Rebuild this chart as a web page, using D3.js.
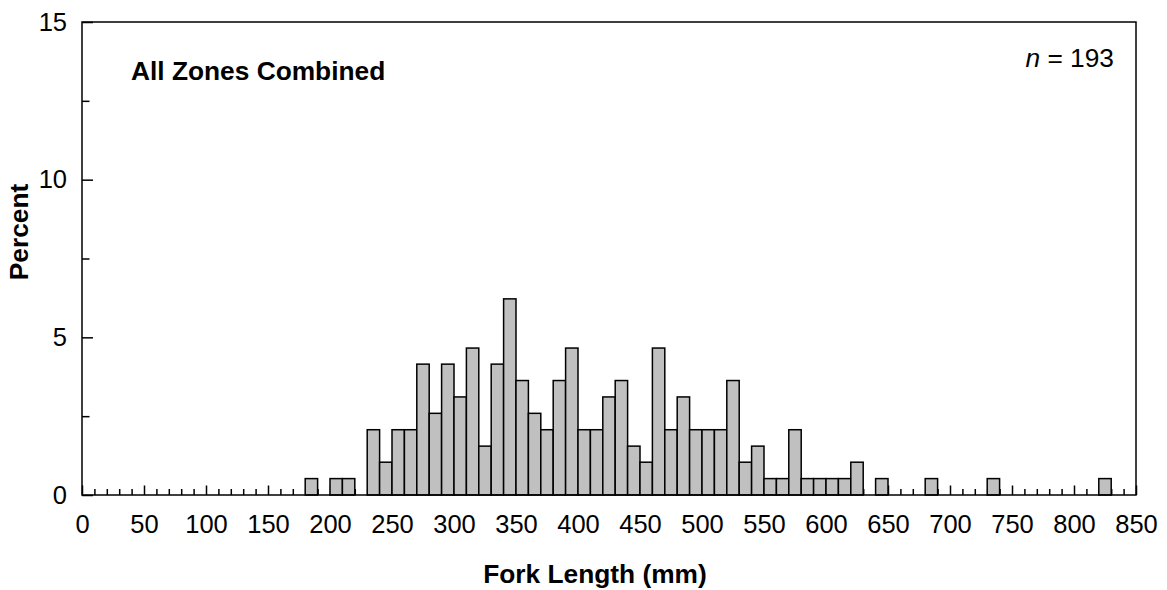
<!DOCTYPE html>
<html>
<head>
<meta charset="utf-8">
<script src="https://cdn.jsdelivr.net/npm/d3@7"></script>
<style>
  html, body { margin: 0; padding: 0; background: #fff; }
  svg text { font-family: "Liberation Sans", Arial, Helvetica, sans-serif; fill: #000; }
</style>
</head>
<body>
<svg id="chart" width="1167" height="590"></svg>
<script>
// Bin lower edges (mm) of non-empty 10-mm bins
const binStarts = [180, 200, 210, 230, 240, 250, 260, 270, 280, 290, 300, 310, 320, 330, 340, 350, 360, 370, 380, 390,
                   400, 410, 420, 430, 440, 450, 460, 470, 480, 490, 500, 510, 520, 530, 540, 550, 560, 570, 580, 590,
                   600, 610, 620, 640, 680, 730, 820];
// Percent of fish in each bin (n = 193)
const percents = [0.52, 0.52, 0.52, 2.07, 1.04, 2.07, 2.07, 4.15, 2.59, 4.15, 3.11, 4.66, 1.55, 4.15, 6.22, 3.63, 2.59, 2.07, 3.63, 4.66,
                  2.07, 2.07, 3.11, 3.63, 1.55, 1.04, 4.66, 2.07, 3.11, 2.07, 2.07, 2.07, 3.63, 1.04, 1.55, 0.52, 0.52, 2.07, 0.52, 0.52,
                  0.52, 0.52, 1.04, 0.52, 0.52, 0.52, 0.52];
const binWidth = 10;
const xMajorTicks = [0, 50, 100, 150, 200, 250, 300, 350, 400, 450, 500, 550, 600, 650, 700, 750, 800, 850];
const yMajorTicks = [0, 5, 10, 15];
const yMinorTicks = [2.5, 7.5, 12.5];
const panelLabel = "All Zones Combined";
const sampleSize = 193;
const xTitle = "Fork Length (mm)";
const yTitle = "Percent";

(function () {
const svg = d3.select("#chart");
const mLeft = 82, mRight = 1136, mTop = 22, mBottom = 495;
const tickFont = 25.5;
const titleFont = 26.3;

const x = d3.scaleLinear().domain([0, 850]).range([mLeft, mRight]);
const y = d3.scaleLinear().domain([0, 15]).range([mBottom, mTop]);

// minor x ticks (every 10 mm)
const xMinor = d3.range(0, 851, 10).filter(v => v % 50 !== 0);
svg.append("g").attr("transform", `translate(0,${mBottom})`)
  .call(d3.axisBottom(x).tickValues(xMinor).tickSize(-6).tickFormat(""))
  .call(g => g.select(".domain").remove())
  .call(g => g.selectAll("line").attr("stroke", "#000").attr("stroke-width", 1.5));

// major x ticks with labels
svg.append("g").attr("transform", `translate(0,${mBottom})`)
  .call(d3.axisBottom(x).tickValues(xMajorTicks).tickSize(-9.5).tickPadding(20).tickFormat(d3.format("d")))
  .call(g => g.select(".domain").remove())
  .call(g => g.selectAll("line").attr("stroke", "#000").attr("stroke-width", 1.5))
  .call(g => g.selectAll("text").attr("font-size", tickFont).attr("font-family", null).attr("fill", "#000"));

// y minor ticks
svg.append("g").attr("transform", `translate(${mLeft},0)`)
  .call(d3.axisLeft(y).tickValues(yMinorTicks).tickSize(-7.5).tickFormat(""))
  .call(g => g.select(".domain").remove())
  .call(g => g.selectAll("line").attr("stroke", "#000").attr("stroke-width", 1.5));

// y major ticks with labels
svg.append("g").attr("transform", `translate(${mLeft},0)`)
  .call(d3.axisLeft(y).tickValues(yMajorTicks).tickSize(-11).tickPadding(15).tickFormat(d3.format("d")))
  .call(g => g.select(".domain").remove())
  .call(g => g.selectAll("line").attr("stroke", "#000").attr("stroke-width", 1.5))
  .call(g => g.selectAll("text").attr("font-size", tickFont).attr("font-family", null).attr("fill", "#000"));

// bars
svg.append("g").selectAll("rect")
  .data(binStarts.map((b, i) => ({ b, p: percents[i] })))
  .join("rect")
  .attr("x", d => x(d.b))
  .attr("width", d => x(d.b + binWidth) - x(d.b))
  .attr("y", d => y(d.p))
  .attr("height", d => y(0) - y(d.p))
  .attr("fill", "#c0c0c0")
  .attr("stroke", "#000")
  .attr("stroke-width", 1.5);

// frame
svg.append("rect")
  .attr("x", mLeft).attr("y", mTop)
  .attr("width", mRight - mLeft).attr("height", mBottom - mTop)
  .attr("fill", "none").attr("stroke", "#000").attr("stroke-width", 1.5);

// panel label
svg.append("text")
  .attr("x", 131).attr("y", 80)
  .attr("font-size", titleFont).attr("font-weight", "bold")
  .text(panelLabel);

// n = 193
const nText = svg.append("text")
  .attr("x", 1114).attr("y", 67)
  .attr("text-anchor", "end")
  .attr("font-size", titleFont);
nText.append("tspan").attr("font-style", "italic").text("n");
nText.append("tspan").text(" = " + sampleSize);

// axis titles
svg.append("text")
  .attr("x", 595).attr("y", 583)
  .attr("text-anchor", "middle")
  .attr("font-size", titleFont).attr("font-weight", "bold")
  .text(xTitle);

svg.append("text")
  .attr("transform", `translate(28,232) rotate(-90)`)
  .attr("text-anchor", "middle")
  .attr("font-size", titleFont).attr("font-weight", "bold")
  .text(yTitle);
})();
</script>
</body>
</html>
